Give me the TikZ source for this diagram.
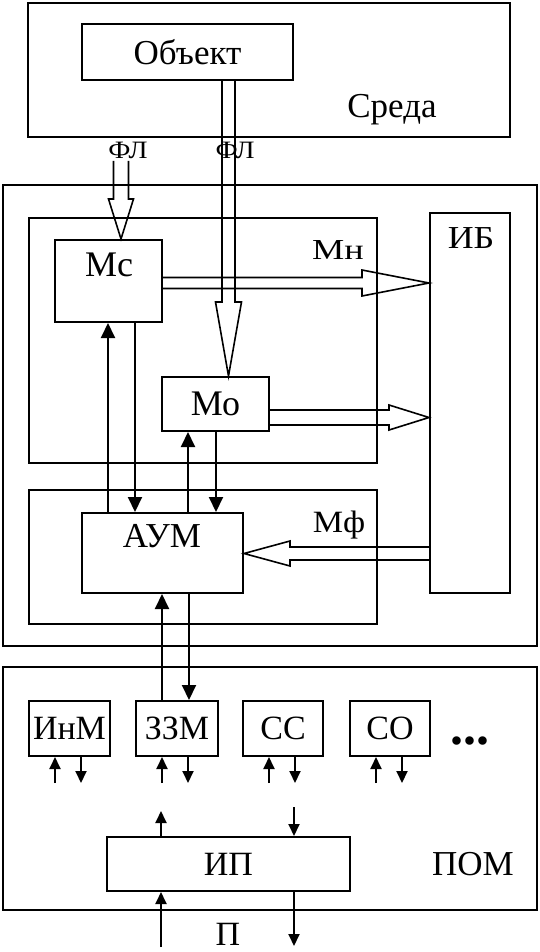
\documentclass[tikz,border=0pt]{standalone}
\usepackage{fontspec}
\usepackage{graphicx}
\setmainfont{Liberation Serif}
\usetikzlibrary{arrows.meta,calc}
\newcommand{\myfs}[1]{\fontsize{#1}{#1}\selectfont}
% hollow (outline) arrow: #1 start, #2 tip, #3 half shaft width, #4 half head width, #5 head length
\newcommand{\hollowarr}[5]{%
  \coordinate (hb) at ($(#2)!#5pt!(#1)$);
  \draw[hollowline] ($(#1)!#3pt!90:(#2)$) -- ($(hb)!#3pt!90:(#2)$) -- ($(hb)!#4pt!90:(#2)$)
     -- (#2) -- ($(hb)!#4pt!-90:(#2)$) -- ($(hb)!#3pt!-90:(#2)$) -- ($(#1)!#3pt!-90:(#2)$);}
\begin{document}
\begin{tikzpicture}[x=1pt,y=-1pt,
  box/.style={draw, line width=2pt, inner sep=0pt, font=\myfs{34}},
  lbl/.style={inner sep=0pt, anchor=base},
  hollowline/.style={line width=1.6pt, line join=miter},
  arr/.style={line width=2pt, -{Triangle[width=14pt,length=15pt]}},
  sarr/.style={line width=1.9pt, -{Triangle[width=11pt,length=12pt]}}]
\useasboundingbox (0,0) rectangle (540,952);

% frames
\node[box, minimum width=482pt, minimum height=134pt] (env) at (269,70) {};
\node[box, minimum width=211pt, minimum height=56pt, font=\myfs{35}] (obj) at (187.5,52) {Объект};
\node[lbl, font=\myfs{35}] (envt) at (392,118) {Среда};

\node[box, minimum width=534pt, minimum height=461pt] (outer) at (270,415.5) {};
\node[box, minimum width=348pt, minimum height=245pt] (in1) at (203,340.5) {};
\node[box, minimum width=348pt, minimum height=134pt] (in2) at (203,557) {};
\node[box, minimum width=80pt, minimum height=380pt] (ib) at (470,403) {};
\node[lbl, font=\myfs{32}] (ibt) at (471,248) {\scalebox{1.12}[1]{ИБ}};

\node[box, minimum width=107pt, minimum height=82pt] (mc) at (108.5,281) {};
\node[lbl, font=\myfs{36}] (mct) at (109,276) {Мс};
\node[box, minimum width=107pt, minimum height=54pt, font=\myfs{36}] (mo) at (215.5,404) {Мо};
\node[box, minimum width=161pt, minimum height=80pt] (aum) at (162.5,553) {};
\node[lbl, font=\myfs{35}] (aumt) at (162,547) {АУМ};

\node[lbl, font=\myfs{29}] (mn) at (338,259) {\scalebox{1.25}[1]{Мн}};
\node[lbl, font=\myfs{31}] (mf) at (339,532) {\scalebox{1.1}[1]{Мф}};
\node[lbl, font=\myfs{25}] (fl1) at (128,159) {\scalebox{1.12}[1]{ФЛ}};
\node[lbl, font=\myfs{25}] (fl2) at (235,159) {\scalebox{1.12}[1]{ФЛ}};

% bottom block
\node[box, minimum width=534pt, minimum height=243pt] (pom) at (270,788.5) {};
\node[box, minimum width=81pt, minimum height=55pt] (inm) at (69.5,728.5) {ИнМ};
\node[box, minimum width=82pt, minimum height=55pt] (zzm) at (177,728.5) {ЗЗМ};
\node[box, minimum width=80pt, minimum height=55pt] (ss) at (283,728.5) {СС};
\node[box, minimum width=80pt, minimum height=55pt] (so) at (390,728.5) {СО};
\node[lbl, font=\myfs{52}] (dots) at (470,744) {\textbf{...}};
\node[box, minimum width=243pt, minimum height=54pt] (ip) at (228.5,864) {ИП};
\node[lbl, font=\myfs{35}] (pomt) at (473,875) {ПОМ};
\node[lbl, font=\myfs{34}] (pt) at (228,945) {П};

% hollow arrows
\coordinate (s1) at (121,161);
\hollowarr{s1}{s1 |- mc.north}{7.5}{12.5}{40}
\coordinate (c2) at (228.5,0);
\coordinate (s2) at (c2 |- obj.south);
\coordinate (t2) at (c2 |- mo.north);
\hollowarr{s2}{t2}{6.5}{13}{74}
\coordinate (r1) at (0,283);
\coordinate (s3) at (mc.east |- r1);
\coordinate (t3) at (ib.west |- r1);
\hollowarr{s3}{t3}{5.5}{13}{67}
\coordinate (r2) at (0,417.5);
\coordinate (s4) at (mo.east |- r2);
\coordinate (t4) at (ib.west |- r2);
\hollowarr{s4}{t4}{7.5}{12.5}{40}
\coordinate (r3) at (0,553.5);
\coordinate (s5) at (ib.west |- r3);
\coordinate (t5) at (aum.east |- r3);
\hollowarr{s5}{t5}{6.5}{12.5}{46}

% solid arrows
\coordinate (v1) at (108,0);
\coordinate (v2) at (135,0);
\coordinate (v3) at (188,0);
\coordinate (v4) at (216,0);
\coordinate (v5) at (162,0);
\coordinate (v6) at (189,0);
\draw[arr] (v1 |- aum.north) -- (v1 |- mc.south);
\draw[arr] (v2 |- mc.south) -- (v2 |- aum.north);
\draw[arr] (v3 |- aum.north) -- (v3 |- mo.south);
\draw[arr] (v4 |- mo.south) -- (v4 |- aum.north);
\draw[arr] (v5 |- zzm.north) -- (v5 |- aum.south);
\draw[arr] (v6 |- aum.south) -- (v6 |- zzm.north);

\foreach \b in {inm,zzm,ss,so}{
  \draw[sarr] ($(\b.south west)+(27,26)$) -- ($(\b.south west)+(27,0)$);
  \draw[sarr] ($(\b.south west)+(53,0)$) -- ($(\b.south west)+(53,26)$);
}
\draw[sarr] ($(ip.north west)+(55,0)$) -- ($(ip.north west)+(55,-25)$);
\draw[sarr] ($(ip.north west)+(188,-29)$) -- ($(ip.north west)+(188,0)$);
\draw[sarr] ($(ip.south west)+(55,55)$) -- ($(ip.south west)+(55,0)$);
\draw[sarr] ($(ip.south west)+(188,0)$) -- ($(ip.south west)+(188,54)$);
\end{tikzpicture}
\end{document}
